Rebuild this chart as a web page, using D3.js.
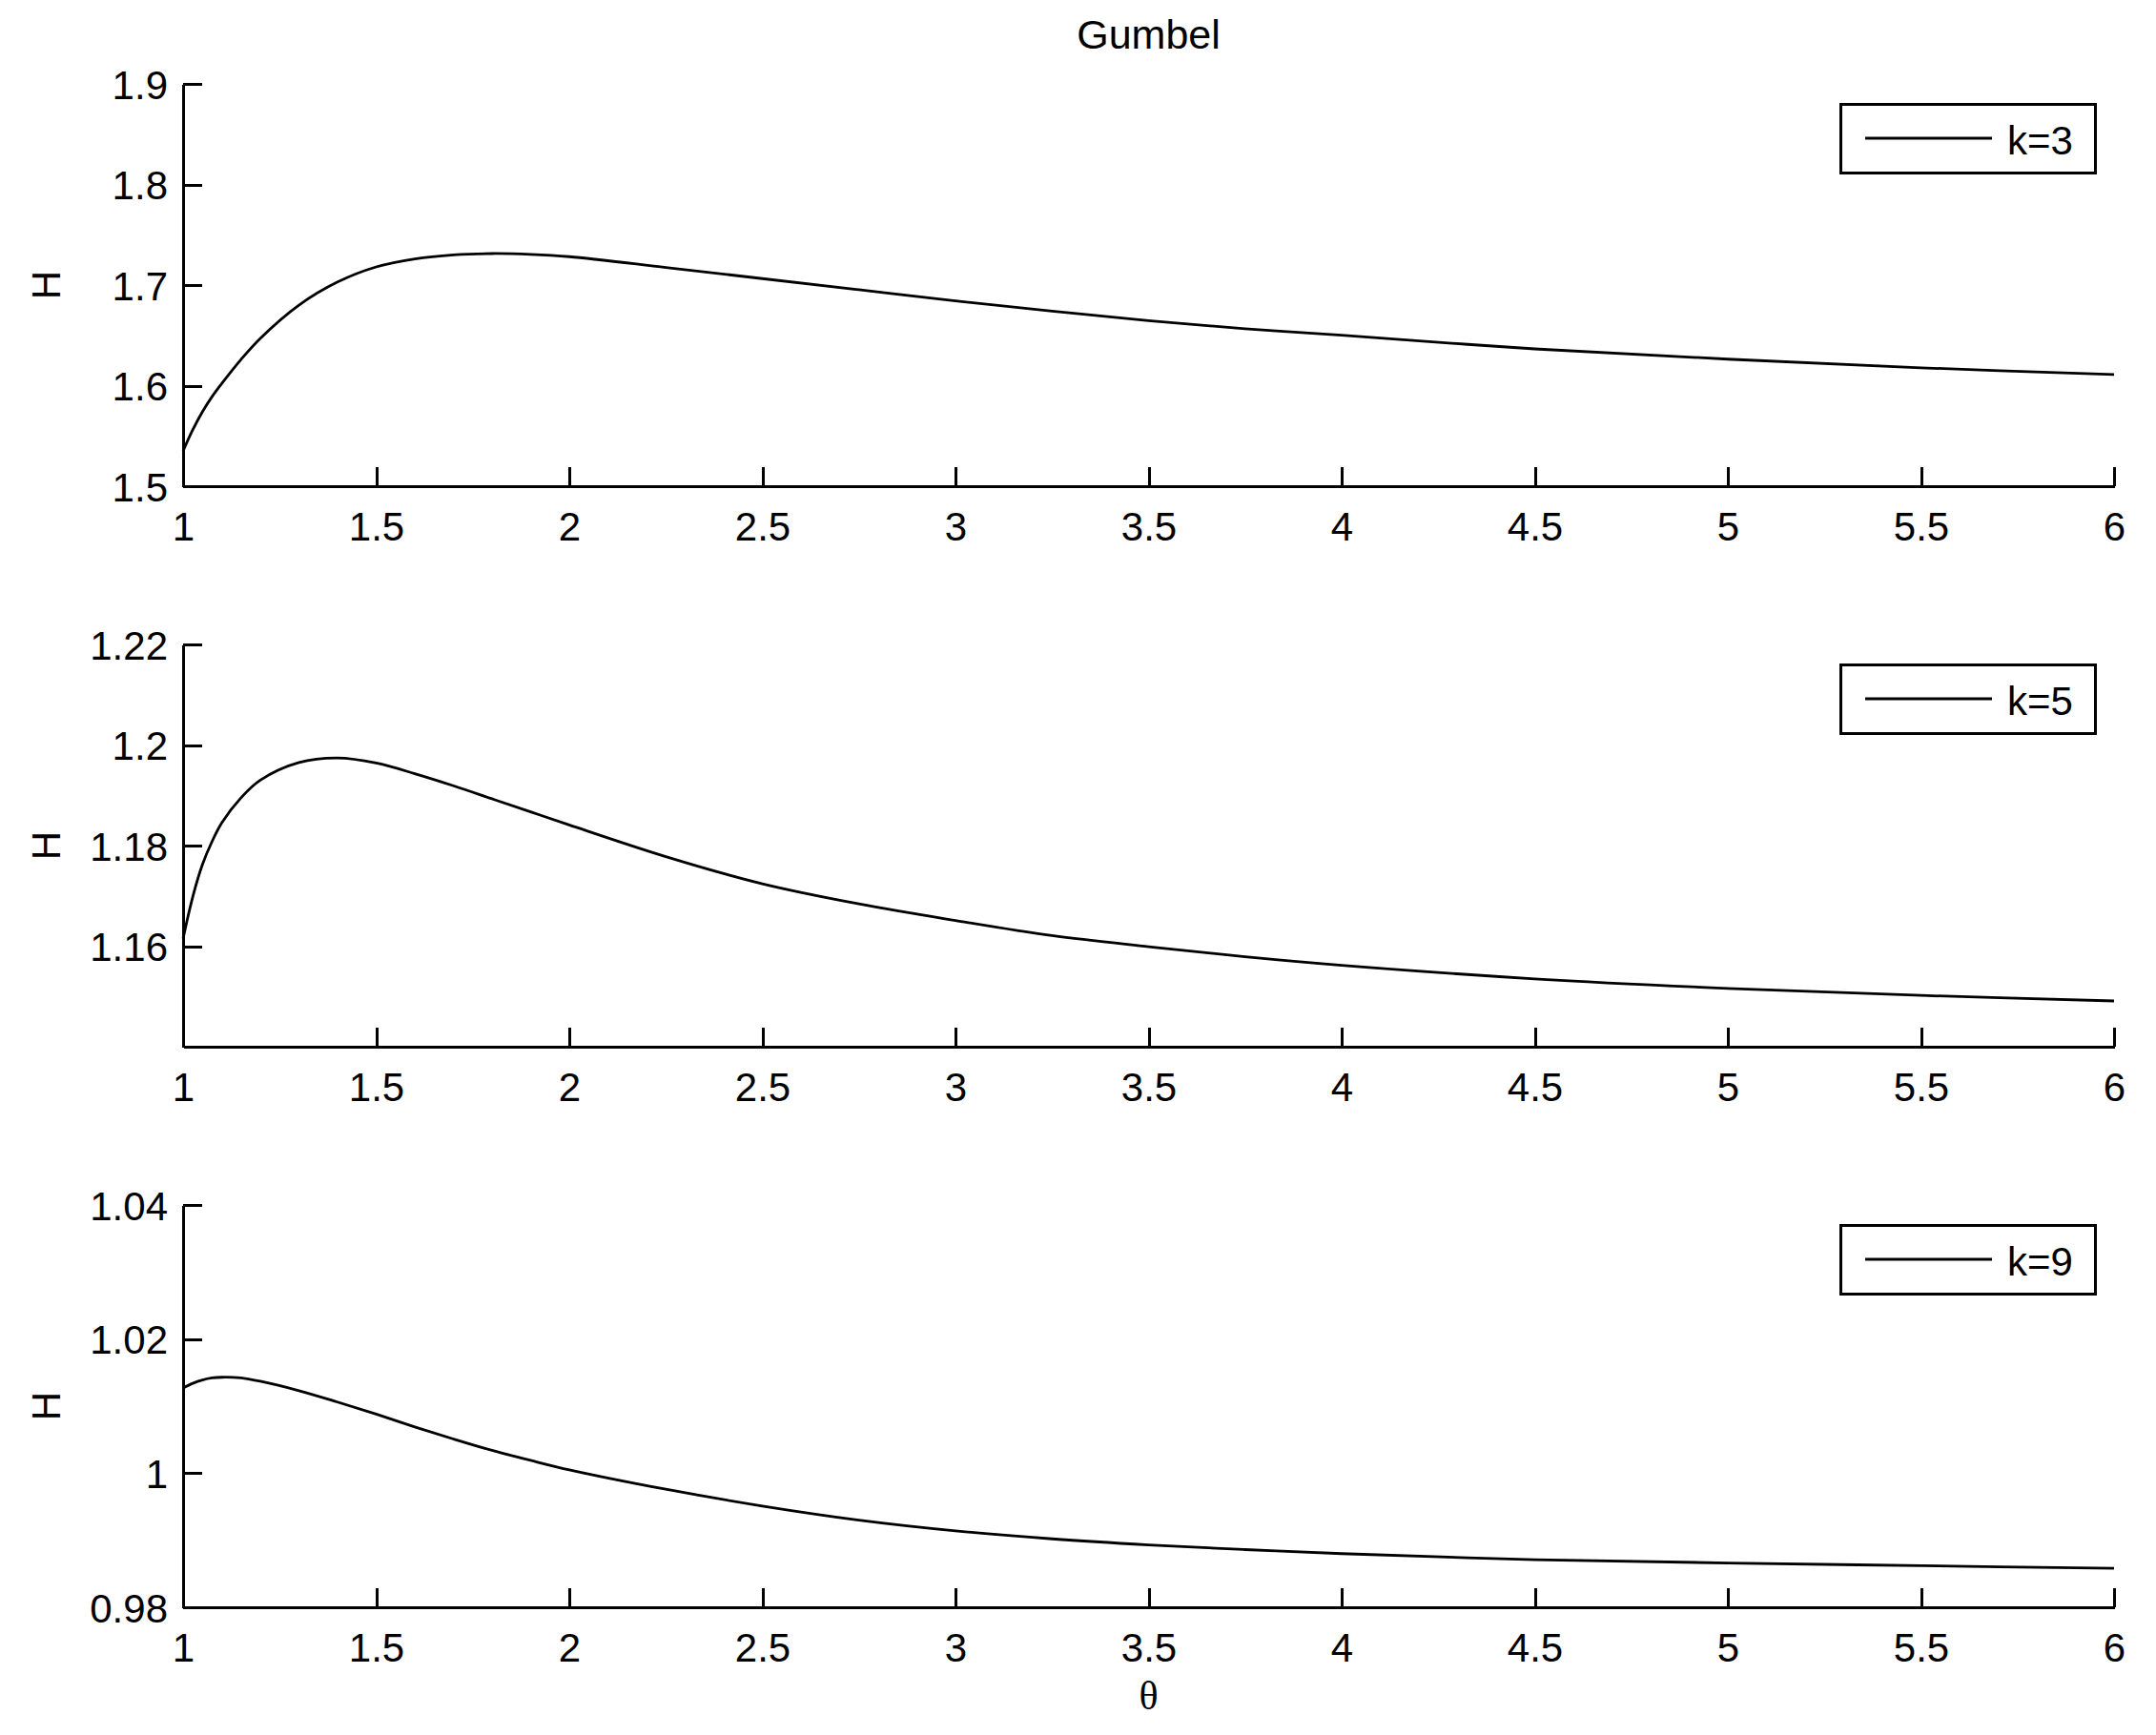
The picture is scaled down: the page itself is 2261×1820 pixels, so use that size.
<!DOCTYPE html>
<html>
<head>
<meta charset="UTF-8">
<title>Gumbel</title>
<script src="https://cdn.jsdelivr.net/npm/d3@7"></script>
<style>
body{margin:0;background:#fff;}
</style>
</head>
<body>
<script>
// theta grid and H values
var theta=[1,1.025,1.05,1.075,1.1,1.15,1.2,1.3,1.4,1.5,1.6,1.7,1.8,1.9,2,2.25,2.5,2.75,3,3.25,3.5,3.75,4,4.5,5,5.5,6];
var H3=[1.535,1.556,1.574,1.589,1.602,1.626,1.647,1.680,1.703,1.718,1.726,1.7300,1.7313,1.7305,1.7282,1.7175,1.7064,1.6953,1.6842,1.674,1.6645,1.6565,1.6501,1.6365,1.6263,1.6177,1.6110];
var H5=[1.1615,1.1698,1.1762,1.1808,1.1845,1.1895,1.1930,1.1965,1.1974,1.1964,1.1943,1.1919,1.1893,1.1867,1.1841,1.1778,1.1724,1.1684,1.1651,1.1621,1.1599,1.1579,1.1562,1.1535,1.1516,1.1502,1.1491];
var H9=[1.0127,1.0134,1.0139,1.0142,1.0143,1.0142,1.0137,1.0123,1.0106,1.0088,1.0069,1.0051,1.0034,1.0019,1.0005,0.9976,0.9951,0.9930,0.9914,0.9902,0.9893,0.9886,0.9880,0.9871,0.9866,0.9862,0.9858];
var xTicks=[1,1.5,2,2.5,3,3.5,4,4.5,5,5.5,6];
var yTicks3=[1.5,1.6,1.7,1.8,1.9];
var yTicks5=[1.16,1.18,1.2,1.22];
var yTicks9=[0.98,1,1.02,1.04];
var labels=["k=3","k=5","k=9"];

var width=2261,height=1820;
var left=192,right=2217,panelH=422;
var tops=[88,676,1264];
var font="'Liberation Sans', Arial, Helvetica, sans-serif";

var panels=[
	{h:H3,dom:[1.5,1.9],ticks:yTicks3,label:labels[0]},
	{h:H5,dom:[1.14,1.22],ticks:yTicks5,label:labels[1]},
	{h:H9,dom:[0.98,1.04],ticks:yTicks9,label:labels[2]}
];

var svg=d3.select("body").append("svg")
	.attr("width",width)
	.attr("height",height)
	.style("background","#fff");

var xScale=d3.scaleLinear().domain([1,6]).range([left,right]);

panels.forEach(function(p,i){
	var top=tops[i],bottom=top+panelH;
	var yScale=d3.scaleLinear().domain(p.dom).range([bottom,top]);
	var g=svg.append("g").attr("class","panel");

	// axes, ticks pointing inward, box off
	var gx=g.append("g")
		.attr("transform","translate(0,"+bottom+")")
		.call(d3.axisBottom(xScale).tickValues(xTicks).tickSizeInner(-20).tickSizeOuter(0).tickPadding(27).tickFormat(d3.format("")));
	var gy=g.append("g")
		.attr("transform","translate("+left+",0)")
		.call(d3.axisLeft(yScale).tickValues(p.ticks).tickSizeInner(-20).tickSizeOuter(0).tickPadding(16).tickFormat(d3.format("")));
	[gx,gy].forEach(function(ax){
		ax.attr("font-family",font).attr("font-size",42);
		ax.select(".domain").attr("stroke","#000").attr("stroke-width",3).attr("shape-rendering","crispEdges");
		ax.selectAll(".tick line").attr("stroke","#000").attr("stroke-width",3).attr("shape-rendering","crispEdges");
		ax.selectAll(".tick text").attr("fill","#000");
	});
	gy.selectAll(".tick text").attr("dy","0.36em");

	var line=d3.line()
		.x(function(d,j){return xScale(theta[j]);})
		.y(function(d){return yScale(d);})
		.curve(d3.curveCatmullRom.alpha(0.5));
	g.append("path")
		.datum(p.h)
		.attr("d",line)
		.attr("fill","none")
		.attr("stroke","#000")
		.attr("stroke-width",2.8);

	// y label
	g.append("text")
		.attr("transform","translate(48,"+(top+panelH/2)+") rotate(-90)")
		.attr("text-anchor","middle")
		.attr("dominant-baseline","central")
		.attr("font-family",font)
		.attr("font-size",42)
		.text("H");

	// legend
	var lg=g.append("g").attr("transform","translate(1930,"+(top+21)+")");
	lg.append("rect")
		.attr("width",267).attr("height",72)
		.attr("fill","#fff").attr("stroke","#000").attr("stroke-width",3)
		.attr("shape-rendering","crispEdges");
	lg.append("line")
		.attr("x1",26).attr("x2",159).attr("y1",36).attr("y2",36)
		.attr("stroke","#000").attr("stroke-width",2.8);
	lg.append("text")
		.attr("x",175).attr("y",53)
		.attr("font-family",font).attr("font-size",42)
		.text(p.label);
});

svg.append("text")
	.attr("x",(left+right)/2).attr("y",51)
	.attr("text-anchor","middle")
	.attr("font-family",font).attr("font-size",43)
	.text("Gumbel");

svg.append("text")
	.attr("x",(left+right)/2).attr("y",1793)
	.attr("text-anchor","middle")
	.attr("font-family","'Liberation Serif','Times New Roman',serif").attr("font-size",42)
	.text("θ");
</script>
</body>
</html>
